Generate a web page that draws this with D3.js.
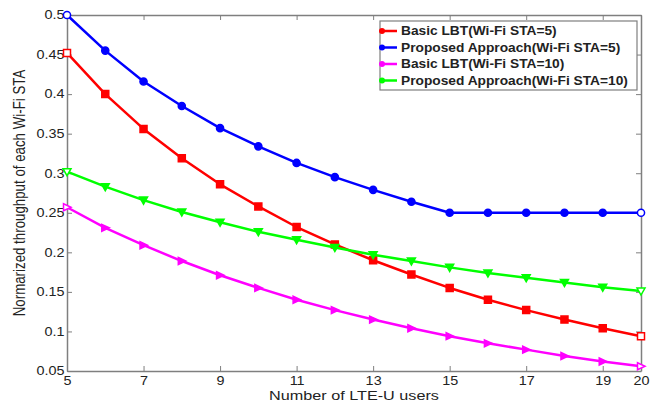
<!DOCTYPE html>
<html>
<head>
<meta charset="utf-8">
<script src="https://cdn.jsdelivr.net/npm/d3@7"></script>
<style>
  body { margin: 0; background: #fff; }
  text { font-family: "Liberation Sans", Arial, sans-serif; }
</style>
</head>
<body>
<svg id="chart" width="657" height="405"></svg>
<script>
// number of LTE-U users
var users = [5, 6, 7, 8, 9, 10, 11, 12, 13, 14, 15, 16, 17, 18, 19, 20];

var basic5 = [0.452, 0.400, 0.356, 0.319, 0.286, 0.258, 0.232, 0.210, 0.190, 0.172, 0.155, 0.140, 0.127, 0.115, 0.104, 0.094];
var proposed5 = [0.500, 0.455, 0.416, 0.385, 0.357, 0.334, 0.313, 0.295, 0.279, 0.264, 0.250, 0.250, 0.250, 0.250, 0.250, 0.250];
var basic10 = [0.257, 0.231, 0.209, 0.189, 0.171, 0.155, 0.140, 0.127, 0.115, 0.104, 0.094, 0.085, 0.077, 0.069, 0.062, 0.056];
var proposed10 = [0.302, 0.283, 0.266, 0.251, 0.238, 0.226, 0.216, 0.206, 0.197, 0.189, 0.181, 0.174, 0.168, 0.162, 0.156, 0.151];

var xTicks = [5, 7, 9, 11, 13, 15, 17, 19, 20];
var yTicks = [0.05, 0.1, 0.15, 0.2, 0.25, 0.3, 0.35, 0.4, 0.45, 0.5];

var seriesNames = ["Basic LBT(Wi-Fi STA=5)", "Proposed Approach(Wi-Fi STA=5)",
                   "Basic LBT(Wi-Fi STA=10)", "Proposed Approach(Wi-Fi STA=10)"];

var series = [
    { name: seriesNames[0], values: basic5, color: "#ff0000", shape: "square" },
    { name: seriesNames[1], values: proposed5, color: "#0000ff", shape: "circle" },
    { name: seriesNames[2], values: basic10, color: "#ff00ff", shape: "right" },
    { name: seriesNames[3], values: proposed10, color: "#00ff00", shape: "down" }
];

var svg = d3.select("#chart");
var margins = { top: 15, right: 16, bottom: 34, left: 67 };
var width = 657 - margins.left - margins.right;
var height = 405 - margins.top - margins.bottom;

// the original picture is a bit stretched sideways
var stretch = 1.2;

var x = d3.scaleLinear().domain([5, 20]).range([0, width]);
var y = d3.scaleLinear().domain([0.05, 0.5]).range([height, 0]);

var g = svg.append("g")
    .attr("transform", "translate(" + margins.left + "," + margins.top + ")");

var frameColor = "#7f7f7f";

// axes (ticks drawn inward like matlab)
var xAxis = g.append("g")
    .attr("transform", "translate(0," + height + ")")
    .call(d3.axisBottom(x).tickValues(xTicks).tickSizeInner(-5).tickSizeOuter(0).tickPadding(5).tickFormat(d3.format("d")));
var xAxisTop = g.append("g")
    .call(d3.axisTop(x).tickValues(xTicks).tickSizeInner(-5).tickSizeOuter(0).tickFormat(""));
var yAxis = g.append("g")
    .call(d3.axisLeft(y).tickValues(yTicks).tickSizeInner(-5).tickSizeOuter(0).tickPadding(2).tickFormat(d3.format("")));
var yAxisRight = g.append("g")
    .attr("transform", "translate(" + width + ",0)")
    .call(d3.axisRight(y).tickValues(yTicks).tickSizeInner(-5).tickSizeOuter(0).tickFormat(""));

[xAxis, xAxisTop, yAxis, yAxisRight].forEach(function (a) {
    a.selectAll("path.domain").attr("stroke", frameColor).attr("stroke-width", 1.5);
    a.selectAll(".tick line").attr("stroke", frameColor);
    a.selectAll(".tick text")
        .attr("fill", "#222")
        .attr("transform", "scale(" + stretch + ",1)")
        .style("font-family", "Liberation Sans, Arial, sans-serif")
        .style("font-size", "12px");
});

// lines
var line = d3.line()
    .x(function (d, i) { return x(users[i]); })
    .y(function (d) { return y(d); });

function markerPath(shape) {
    if (shape === "square") return "M-3.5,-3.5H3.5V3.5H-3.5Z";
    if (shape === "right") return "M-3.5,-3.5L4,0L-3.5,3.5Z";
    if (shape === "down") return "M-4,-3L4,-3L0,4Z";
    return d3.symbol().type(d3.symbolCircle).size(40)();
}

series.forEach(function (s) {
    g.append("path")
        .datum(s.values)
        .attr("fill", "none")
        .attr("stroke", s.color)
        .attr("stroke-width", 2.5)
        .attr("stroke-linejoin", "round")
        .attr("d", line);

    g.selectAll(null)
        .data(s.values)
        .enter().append("path")
        .attr("transform", function (d, i) { return "translate(" + x(users[i]) + "," + y(d) + ")"; })
        .attr("d", markerPath(s.shape))
        .attr("fill", function (d, i) { return (i === 0 || i === s.values.length - 1) ? "#fff" : s.color; })
        .attr("stroke", s.color)
        .attr("stroke-width", 1.5);
});

// axis labels
svg.append("text")
    .attr("transform", "translate(" + (margins.left + width / 2) + ",400) scale(" + stretch + ",1)")
    .attr("text-anchor", "middle")
    .style("font-size", "13.5px")
    .attr("fill", "#222")
    .text("Number of LTE-U users");

svg.append("text")
    .attr("transform", "translate(25," + (margins.top + height / 2) + ") rotate(-90) scale(1," + stretch + ")")
    .attr("text-anchor", "middle")
    .style("font-size", "13.3px")
    .attr("fill", "#222")
    .text("Normarized throughput of each Wi-Fi STA");

// legend
var legend_dims = { left: 380, top: 21, w: 257, h: 69, row: 16.5 };
var lg = svg.append("g");
lg.append("rect")
    .attr("x", legend_dims.left)
    .attr("y", legend_dims.top)
    .attr("width", legend_dims.w)
    .attr("height", legend_dims.h)
    .attr("fill", "#fff")
    .attr("stroke", frameColor)
    .attr("stroke-width", 1.2);

var item = lg.selectAll(".legend")
    .data(series)
    .enter().append("g")
    .attr("class", "legend")
    .attr("transform", function (_, i) {
        return "translate(" + legend_dims.left + "," + (legend_dims.top + 10 + i * legend_dims.row) + ")";
    });
item.append("line")
    .attr("x1", 0).attr("x2", 17)
    .attr("stroke", function (d) { return d.color; })
    .attr("stroke-width", 2.5);
item.append("circle")
    .attr("cx", 2).attr("r", 3)
    .attr("fill", function (d) { return d.color; });
item.append("text")
    .attr("transform", "translate(21,0) scale(1.1,1)")
    .attr("dy", ".35em")
    .style("font-size", "12.5px")
    .style("font-weight", "bold")
    .attr("fill", "#222")
    .text(function (d) { return d.name; });
</script>
</body>
</html>
